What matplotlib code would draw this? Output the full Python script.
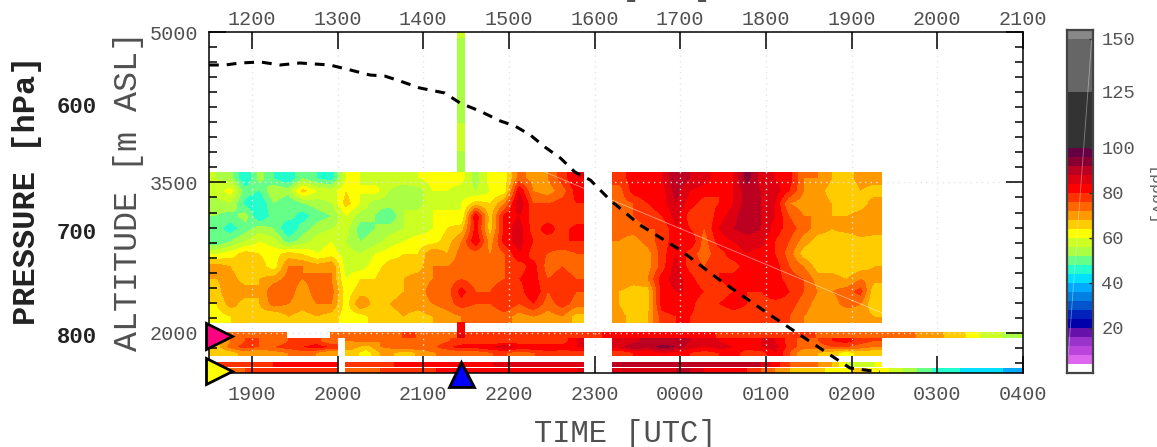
import numpy as np
import matplotlib
matplotlib.use("Agg")
import matplotlib.pyplot as plt
from matplotlib.colors import BoundaryNorm, ListedColormap
from matplotlib.transforms import blended_transform_factory

# colour scale [ppbv]
levels = [0, 4, 8, 12, 16, 20, 24, 28, 32, 36, 40, 44, 48, 52, 56, 60, 64, 68,
          72, 76, 80, 84, 88, 92, 96, 100, 125, 148.5, 152.4]
colors = ["#ffffff", "#dd66ee", "#bb44dd", "#9933cc", "#6611aa", "#0000aa",
          "#0022bb", "#0055cc", "#0080e0", "#00aaff", "#00e0ff", "#22ffcc",
          "#66ff88", "#aaff44", "#ccff22", "#ffff00", "#ffcc00", "#ff9900",
          "#ff6600", "#ff3300", "#ff0000", "#dd0011", "#bb0022", "#880033",
          "#660044", "#333333", "#666666", "#888888"]

# upper curtain, top row first (3600 m down to 2100 m)
upper_alt = [3600, 2100]
left_time = [18.5, 22.876]
left_rows = [
    [56, 54, 44, 54, 48, 44, 52, 48, 46, 60, 60, 58, 58, 58, 60, 62, 62, 62, 54, 62, 62, 74, 70, 72, 78, 84],
    [58, 62, 50, 48, 56, 54, 66, 60, 58, 64, 60, 62, 56, 54, 54, 60, 60, 58, 56, 60, 62, 84, 72, 70, 74, 82],
    [54, 56, 47, 44, 52, 48, 52, 54, 56, 66, 60, 54, 54, 56, 54, 60, 58, 60, 66, 64, 72, 88, 76, 76, 78, 80],
    [52, 50, 54, 44, 50, 50, 46, 50, 52, 60, 54, 52, 48, 56, 58, 60, 62, 60, 84, 66, 82, 84, 78, 78, 78, 76],
    [50, 46, 50, 54, 52, 44, 50, 54, 56, 58, 50, 52, 54, 56, 58, 60, 64, 66, 82, 66, 82, 86, 78, 82, 78, 82],
    [48, 52, 56, 60, 58, 50, 54, 58, 60, 56, 52, 54, 58, 60, 62, 62, 66, 72, 84, 70, 82, 86, 80, 78, 80, 80],
    [60, 62, 66, 64, 62, 66, 64, 60, 62, 58, 56, 60, 62, 64, 64, 72, 68, 74, 74, 72, 76, 84, 78, 76, 74, 76],
    [70, 68, 64, 66, 62, 72, 72, 70, 72, 58, 58, 62, 66, 66, 66, 72, 72, 74, 74, 74, 76, 78, 82, 74, 76, 74],
    [68, 70, 66, 68, 70, 74, 72, 74, 72, 60, 64, 64, 68, 68, 70, 72, 74, 76, 74, 74, 76, 80, 82, 76, 78, 76],
    [66, 72, 70, 68, 76, 74, 70, 74, 74, 62, 66, 68, 66, 68, 70, 74, 74, 82, 76, 76, 80, 78, 84, 76, 80, 76],
    [64, 70, 66, 68, 74, 72, 70, 72, 72, 62, 72, 66, 68, 70, 70, 72, 74, 78, 76, 76, 80, 76, 80, 74, 78, 74],
    [62, 64, 68, 66, 64, 68, 66, 68, 66, 62, 62, 66, 66, 68, 66, 68, 70, 72, 72, 72, 74, 70, 72, 70, 72, 66],
]
right_time = [23.2, 26.35]
right_rows = [
    [78, 82, 82, 84, 92, 88, 86, 82, 84, 94, 86, 84, 82, 72, 72, 68, 66, 70, 70],
    [74, 82, 84, 82, 90, 84, 82, 80, 84, 90, 88, 86, 80, 72, 70, 66, 64, 68, 66],
    [74, 76, 80, 82, 88, 82, 78, 80, 84, 90, 88, 84, 72, 70, 70, 68, 64, 66, 70],
    [74, 76, 78, 80, 86, 78, 76, 82, 86, 92, 88, 84, 76, 72, 72, 68, 68, 70, 70],
    [74, 74, 76, 76, 84, 80, 76, 84, 88, 90, 88, 82, 78, 74, 70, 68, 70, 72, 70],
    [72, 70, 74, 78, 82, 84, 74, 82, 84, 86, 86, 80, 76, 70, 66, 66, 64, 66, 66],
    [70, 68, 70, 78, 84, 78, 74, 78, 82, 84, 82, 80, 74, 66, 64, 66, 66, 66, 66],
    [70, 68, 70, 78, 86, 78, 76, 80, 78, 82, 80, 82, 76, 72, 66, 66, 64, 66, 68],
    [72, 70, 72, 82, 86, 82, 76, 80, 82, 82, 84, 82, 78, 76, 70, 70, 68, 72, 70],
    [68, 66, 66, 82, 84, 84, 80, 78, 80, 80, 80, 84, 80, 76, 72, 72, 74, 78, 64],
    [68, 64, 66, 82, 84, 82, 76, 80, 82, 80, 78, 78, 78, 74, 70, 70, 74, 72, 64],
    [70, 66, 68, 78, 80, 80, 78, 76, 78, 78, 76, 76, 76, 72, 70, 68, 68, 70, 68],
]

# thin full-width strip just under 2000 m (0 = no data)
strip_alt = [2000, 1945]
strip_values = [74, 74, 72, 74, 74, 74, 0, 0, 72, 74, 74, 74, 74, 76, 76, 74, 74, 76, 78, 76,
                76, 78, 78, 76, 76, 78, 78, 80, 80, 82, 80, 80, 82, 80, 80, 80, 78, 78, 78, 76,
                76, 76, 76, 74, 74, 74, 72, 72, 72, 72, 70, 68, 66, 62, 58, 56, 54]

# lower curtain 1945-1770 m, split by the gap at 2000 UTC
lower_alt = [1945, 1770]
lower_a_time = [18.5, 20.005]
lower_a_rows = [
    [66, 72, 76, 76, 72, 76, 76, 78, 72],
    [66, 74, 78, 76, 76, 78, 80, 82, 80],
    [64, 66, 70, 68, 70, 72, 74, 72, 68],
]
lower_b_time = [20.087, 22.876]
lower_b_rows = [
    [72, 74, 72, 76, 74, 72, 74, 76, 78, 78, 76, 76, 78, 76, 76, 78, 84],
    [70, 66, 72, 74, 76, 74, 76, 80, 82, 82, 84, 88, 82, 84, 84, 82, 84],
    [66, 62, 68, 68, 66, 70, 72, 72, 74, 74, 76, 76, 74, 76, 78, 78, 78],
]
lower_c_time = [23.2, 26.35]
lower_c_rows = [
    [84, 86, 90, 88, 90, 88, 84, 84, 82, 82, 84, 84, 78, 74, 76, 80, 82, 78, 76],
    [86, 92, 90, 94, 92, 86, 84, 86, 84, 82, 84, 86, 78, 74, 74, 76, 76, 74, 72],
    [76, 80, 80, 84, 82, 80, 78, 80, 82, 78, 78, 84, 76, 68, 68, 66, 62, 66, 64],
]

# two thin strips at the bottom of the frame
low1_alt = [1700, 1660]
low2_alt = [1640, 1600]
low1_a_time = [18.5, 20.005]
low1_a = [76, 78, 80, 78, 80, 82, 80, 82, 80]
low1_b_time = [20.087, 22.876]
low1_b = [78, 80, 78, 80, 80, 82, 82, 82, 80, 82, 84, 84, 86, 84, 86, 84, 84]
low1_c_time = [23.2, 26.35]
low1_c = [88, 90, 88, 90, 92, 90, 88, 88, 90, 92, 88, 82, 76, 74, 72, 68, 60, 56, 60]
low2_a_time = [18.5, 20.005]
low2_a = [72, 74, 76, 76, 78, 76, 78, 78, 76]
low2_b_time = [20.087, 22.876]
low2_b = [74, 74, 76, 76, 78, 78, 80, 80, 80, 80, 80, 80, 82, 82, 82, 82, 84]
low2_c_time = [23.2, 28.0]
low2_c = [84, 84, 86, 86, 88, 88, 84, 82, 84, 80, 76, 72, 68, 66, 66, 62, 62, 66, 62,
          60, 56, 52, 48, 46, 44, 42, 42, 40, 36]

# single profile at the blue triangle
profile_time = [21.394, 21.487]
profile_high_alt = [5000, 3600]
profile_high = [56, 55, 54, 54, 54, 54, 56, 57, 56, 52]
profile_low_alt = [2100, 1945]
profile_low = [80, 84]

# flight altitude
flight_time = [18.5, 18.69, 18.86, 19.10, 19.33, 19.56, 19.91, 20.15, 20.38, 20.55, 20.73,
               20.96, 21.25, 21.43, 21.66, 21.90, 22.07, 22.25, 22.42, 22.60, 22.77, 22.95,
               23.18, 23.53, 24.0, 24.46, 25.05, 25.40, 25.75, 25.98, 26.33]
flight_alt = [4671, 4671, 4691, 4701, 4671, 4691, 4671, 4621, 4571, 4561, 4511,
              4442, 4392, 4292, 4212, 4113, 4063, 3973, 3853, 3744, 3604, 3524,
              3325, 3076, 2826, 2527, 2178, 1979, 1780, 1650, 1610]

utc_ticks = [19, 20, 21, 22, 23, 24, 25, 26, 27, 28]
utc_labels = ["1900", "2000", "2100", "2200", "2300", "0000", "0100", "0200", "0300", "0400"]
local_labels = ["1200", "1300", "1400", "1500", "1600", "1700", "1800", "1900", "2000", "2100"]
alt_ticks = [5000, 3500, 2000]
pressure_levels = ["600", "700", "800"]
pressure_alts = [4252, 2986, 1949]
cbar_ticks = [20, 40, 60, 80, 100, 125, 148.5]
cbar_labels = ["20", "40", "60", "80", "100", "125", "150"]

cmap = ListedColormap(colors)
norm = BoundaryNorm(levels, cmap.N)
MONO = "Liberation Mono"
GREY = "#505050"


def draw_block(ax, time_range, alt_range, rows):
    rows = np.atleast_2d(rows).astype(float)
    rows[rows == 0] = np.nan
    ax.imshow(rows, extent=[time_range[0], time_range[1], alt_range[1], alt_range[0]],
              origin="upper", aspect="auto", cmap=cmap, norm=norm,
              interpolation="bilinear", interpolation_stage="data", zorder=1)


fig = plt.figure(figsize=(11.57, 4.47), dpi=100)
ax = fig.add_axes([209 / 1157, 74 / 447, 814 / 1157, 341 / 447])

draw_block(ax, left_time, upper_alt, left_rows)
draw_block(ax, right_time, upper_alt, right_rows)
draw_block(ax, [18.5, 28.0], strip_alt, [strip_values])
draw_block(ax, lower_a_time, lower_alt, lower_a_rows)
draw_block(ax, lower_b_time, lower_alt, lower_b_rows)
draw_block(ax, lower_c_time, lower_alt, lower_c_rows)
draw_block(ax, low1_a_time, low1_alt, [low1_a])
draw_block(ax, low1_b_time, low1_alt, [low1_b])
draw_block(ax, low1_c_time, low1_alt, [low1_c])
draw_block(ax, low2_a_time, low2_alt, [low2_a])
draw_block(ax, low2_b_time, low2_alt, [low2_b])
draw_block(ax, low2_c_time, low2_alt, [low2_c])
draw_block(ax, profile_time, profile_high_alt, [[v] for v in profile_high])
draw_block(ax, profile_time, profile_low_alt, [[v] for v in profile_low])

ax.set_xlim(18.5, 28)
ax.set_ylim(1600, 5000)
ax.set_axisbelow(False)

# dotted grid sits over the colours
for t in utc_ticks[:-1]:
    ax.plot([t, t], [1600, 5000], color="#e4e4e4", lw=1, ls=(0, (1, 3)), zorder=2)
for a in [3500, 2000]:
    ax.plot([18.5, 28], [a, a], color="#e4e4e4", lw=1, ls=(0, (1, 3)), zorder=2)

# faint straight artefact across the curtain
ax.plot([22.42, 26.36], [3604, 2198], color="white", lw=0.6, alpha=0.5, zorder=2)

ax.plot(flight_time, flight_alt, color="black", lw=2.2, ls=(0, (3.2, 2.6)), zorder=3)

ax.set_xticks(utc_ticks)
ax.set_xticklabels(utc_labels, fontfamily=MONO, fontsize=14.5, color=GREY)
ax.set_yticks(alt_ticks)
ax.set_yticklabels(["5000", "3500", "2000"], fontfamily=MONO, fontsize=14.5, color=GREY)
ax.set_yticks(np.arange(1700, 5000, 150), minor=True)
ax.tick_params(axis="x", which="major", direction="in", length=12.5, width=1.1,
               top=True, bottom=True, pad=9)
ax.tick_params(axis="y", which="major", direction="in", length=12.5, width=1.1,
               left=True, right=True, pad=8)
ax.tick_params(axis="y", which="minor", direction="in", length=6, width=1.1,
               left=True, right=True)
for s in ax.spines.values():
    s.set_linewidth(1.1)
    s.set_zorder(5)

ax_top = ax.secondary_xaxis("top")
ax_top.set_xticks(utc_ticks)
ax_top.set_xticklabels(local_labels, fontfamily=MONO, fontsize=14.5, color=GREY)
ax_top.tick_params(axis="x", length=0, pad=2)
ax_top.spines["top"].set_visible(False)

# only the feet of the cropped top title's brackets show in the picture
fig.text(667 / 1157, 1 - 2 / 447, "[   ]", fontfamily=MONO, fontsize=22,
         color=GREY, ha="center", va="bottom")
fig.text(625 / 1157, 1 - 434 / 447, "TIME [UTC]", fontfamily=MONO, fontsize=22,
         color=GREY, ha="center", va="center")
fig.text(129 / 1157, 1 - 191 / 447, "ALTITUDE [m ASL]", fontfamily=MONO, fontsize=24,
         color=GREY, rotation=90, ha="center", va="center")
fig.text(27 / 1157, 1 - 190 / 447, "PRESSURE [hPa]", fontfamily=MONO, fontsize=23,
         fontweight="bold", color="#222222", rotation=90, ha="center", va="center")

trans = blended_transform_factory(fig.transFigure, ax.transData)
for label, alt in zip(pressure_levels, pressure_alts):
    ax.text(77 / 1157, alt, label, transform=trans, fontfamily=MONO, fontsize=16,
            fontweight="bold", color="#222222", ha="center", va="center")

# position markers
ax.plot(18.62, 1969, marker=">", ms=18.5, mfc="#ff0080", mec="black", mew=2,
        clip_on=False, zorder=6)
ax.plot(18.62, 1620, marker=">", ms=18.5, mfc="#ffff00", mec="black", mew=2,
        clip_on=False, zorder=6)
ax.plot(21.44, 1590, marker="^", ms=18, mfc="#0000ff", mec="black", mew=2,
        clip_on=False, zorder=6)

# colour bar
cax = fig.add_axes([1067 / 1157, 74 / 447, 26 / 1157, 343 / 447])
cax.pcolormesh([0, 1], levels, np.arange(len(colors)).reshape(-1, 1),
               cmap=cmap, vmin=-0.5, vmax=len(colors) - 0.5)
cax.plot([0.95, 0.05], [148, 8], color="white", lw=0.6, alpha=0.4)
cax.set_xlim(0, 1)
cax.set_ylim(0, 152.4)
cax.set_xticks([])
cax.yaxis.tick_right()
cax.set_yticks(cbar_ticks)
cax.set_yticklabels(cbar_labels, fontfamily=MONO, fontsize=13.5, color="#555555")
cax.tick_params(axis="y", direction="in", length=3, width=1, color="#333333", pad=6)
for s in cax.spines.values():
    s.set_linewidth(1.6)
    s.set_color("#444444")

fig.text(1153 / 1157, 1 - 197 / 447, "[ppbv]", fontfamily=MONO, fontsize=12, color="#666666",
         rotation=270, ha="center", va="center")

fig.savefig("out.png", dpi=100)
